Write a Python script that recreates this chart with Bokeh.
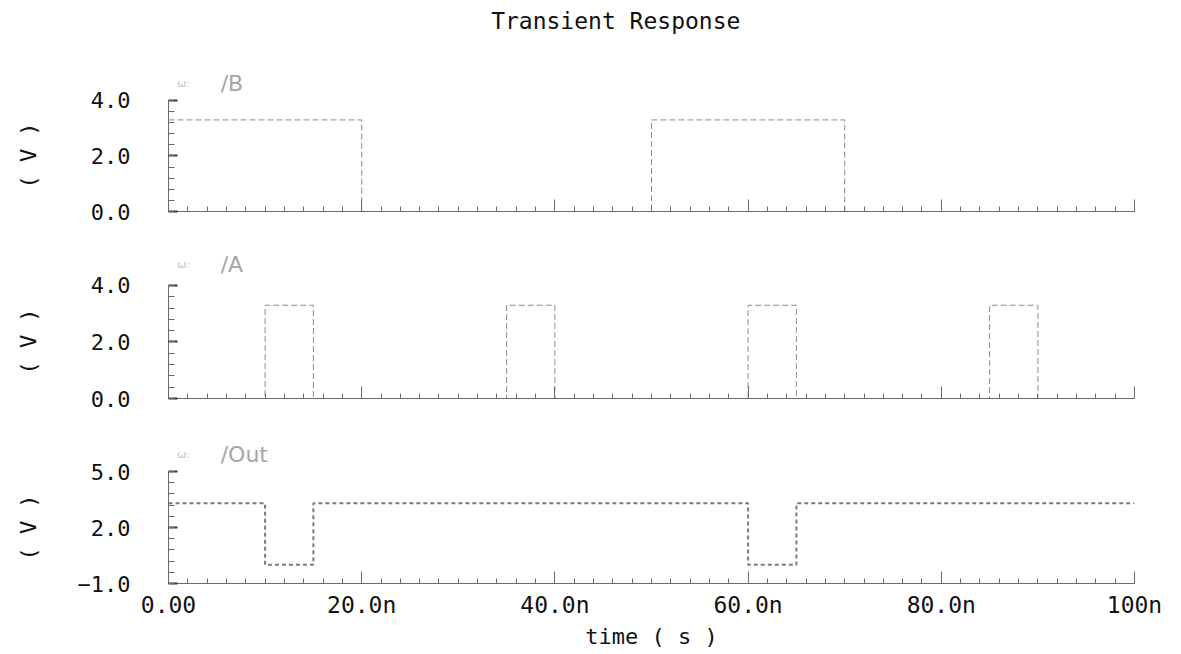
from math import pi

from bokeh.plotting import figure
from bokeh.layouts import column, row
from bokeh.models import Range1d, FixedTicker, Label
from bokeh.embed import file_html
from bokeh.resources import INLINE

# ---- data (time in ns, voltages in V) ----
x_major = [0, 20, 40, 60, 80, 100]
x_tick_labels = ["0.00", "20.0n", "40.0n", "60.0n", "80.0n", "100n"]

b_time = [0, 20, 50, 70, 100]
b_volt = [3.3, 0.0, 3.3, 0.0, 0.0]

a_time = [0, 10, 15, 35, 40, 60, 65, 85, 90, 100]
a_volt = [0.0, 3.3, 0.0, 3.3, 0.0, 3.3, 0.0, 3.3, 0.0, 0.0]

out_time = [0, 10, 15, 60, 65, 100]
out_volt = [3.3, 0.0, 3.3, 0.0, 3.3, 3.3]

signal_names = ["/B", "/A", "/Out"]
y_limits = [(0, 4), (0, 4), (-1, 5)]
y_major = [[0, 2, 4], [0, 2, 4], [-1, 2, 5]]
y_tick_labels = [["0.0", "2.0", "4.0"], ["0.0", "2.0", "4.0"], ["\u22121.0", "2.0", "5.0"]]
y_unit = "( V )"

# ---- styling ----
W, H = 1181, 654
STRIP_W = 60                      # left strip holding the unit labels
LEFT, RIGHT = 168 - STRIP_W, 47
MONO = "DejaVu Sans Mono"
AXIS_GRAY = "#6a6a6a"
TRACE_GRAY = "#8c8c8c"

x_range = Range1d(0, 100)


def make_panel(idx, height, bottom, view_top, show_x_labels):
    """One stacked panel. The frame reaches above the axis (view_top) so the
    trace name and title have room; the y axis itself is bounded to y_limits."""
    lo, hi = y_limits[idx]
    p = figure(width=W - STRIP_W, height=height, x_range=x_range,
               y_range=Range1d(lo, view_top),
               output_backend="svg", toolbar_location=None,
               min_border_left=LEFT, min_border_right=RIGHT,
               min_border_top=2, min_border_bottom=bottom)
    p.grid.visible = False
    p.outline_line_color = None
    p.background_fill_color = "white"
    p.border_fill_color = "white"

    # x axis: inward ticks, labels only on the bottom panel
    xa = p.xaxis[0]
    xa.ticker = FixedTicker(ticks=x_major, minor_ticks=list(range(0, 101, 2)))
    xa.axis_line_color = AXIS_GRAY
    xa.major_tick_line_color = AXIS_GRAY
    xa.minor_tick_line_color = AXIS_GRAY
    xa.major_tick_out = 0
    xa.major_tick_in = 12
    xa.minor_tick_out = 0
    xa.minor_tick_in = 5
    if show_x_labels:
        xa.major_label_overrides = {t: s for t, s in zip(x_major, x_tick_labels)}
        xa.major_label_text_font = MONO
        xa.major_label_text_font_size = "23px"
        xa.major_label_text_color = "#111111"
        xa.major_label_standoff = 8
        xa.axis_label = "time ( s )"
        xa.axis_label_text_font = MONO
        xa.axis_label_text_font_size = "22px"
        xa.axis_label_text_font_style = "normal"
        xa.axis_label_text_color = "#111111"
        xa.axis_label_standoff = 3
    else:
        xa.major_label_text_color = None
        xa.major_label_text_font_size = "1px"
        xa.major_label_standoff = 0

    # y axis, bounded to the signal's scale
    step = (hi - lo) / 10
    ya = p.yaxis[0]
    ya.bounds = (lo, hi)
    ya.ticker = FixedTicker(ticks=y_major[idx],
                            minor_ticks=[lo + step * i for i in range(11)])
    ya.major_label_overrides = {t: s for t, s in zip(y_major[idx], y_tick_labels[idx])}
    ya.axis_line_color = AXIS_GRAY
    ya.major_tick_line_color = "#333333"
    ya.major_tick_line_width = 2
    ya.minor_tick_line_color = AXIS_GRAY
    ya.major_tick_out = 0
    ya.major_tick_in = 9
    ya.minor_tick_out = 0
    ya.minor_tick_in = 6
    ya.major_label_text_font = MONO
    ya.major_label_text_font_size = "22px"
    ya.major_label_text_color = "#111111"
    ya.major_label_standoff = 38
    return p


p1 = make_panel(0, 240, 29, 7.53, False)
p2 = make_panel(1, 188, 30, 5.52, False)
p3 = make_panel(2, 226, 71, 7.2, True)

p1.step(b_time, b_volt, mode="after", line_color=TRACE_GRAY, line_width=1, line_dash="6 3")
p2.step(a_time, a_volt, mode="after", line_color=TRACE_GRAY, line_width=1, line_dash="6 3")
p3.step(out_time, out_volt, mode="after", line_color="#7a7a7a", line_width=2, line_dash="4 3")

# chart title, drawn in the top panel's upper margin
p1.add_layout(Label(x=46.3, y=6.88, text="Transient Response", text_font=MONO,
                    text_font_size="23px", text_color="#111111",
                    text_align="center", text_baseline="middle"))

# trace names with their small trace symbol
name_pos = [(p1, 4.61), (p2, 4.74), (p3, 5.91)]
for (p, yv), name in zip(name_pos, signal_names):
    p.add_layout(Label(x=5.4, y=yv, text=name, text_font="DejaVu Sans",
                       text_font_size="22px", text_color="#a6a6a6",
                       text_align="left", text_baseline="middle"))
    p.add_layout(Label(x=0.9, y=yv, text="\u03c9:", text_font="DejaVu Sans",
                       text_font_size="11px", text_color="#c4c4c4",
                       text_align="left", text_baseline="middle"))

# left strip: rotated unit label centred on each panel's axis
# (strip coordinates are pixels, measured up from the bottom of the page)
strip = figure(width=STRIP_W, height=H, x_range=Range1d(0, STRIP_W),
               y_range=Range1d(0, H), x_axis_type=None, y_axis_type=None,
               output_backend="svg", toolbar_location=None,
               min_border=0, outline_line_color=None)
strip.grid.visible = False
for y_from_top in (155, 341, 527):
    strip.add_layout(Label(x=28, y=H - y_from_top, text=y_unit, angle=pi / 2,
                           text_font=MONO, text_font_size="22px",
                           text_color="#111111",
                           text_align="center", text_baseline="middle"))

layout = row(strip, column(p1, p2, p3, spacing=0), spacing=0)

open("out.html", "w").write(file_html(layout, INLINE))
